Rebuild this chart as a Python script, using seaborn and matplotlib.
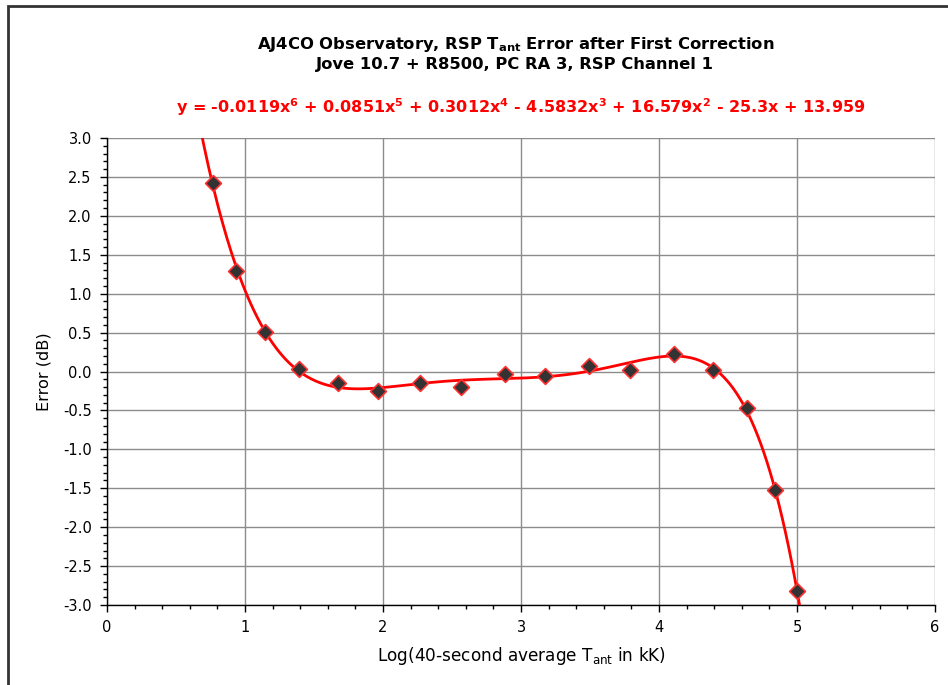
import numpy as np
import pandas as pd
import seaborn as sns
import matplotlib
matplotlib.use("Agg")
import matplotlib.pyplot as plt
from matplotlib.ticker import MultipleLocator, FormatStrFormatter
from matplotlib.patches import Rectangle

# Data
log_tant = [0.768, 0.935, 1.145, 1.391, 1.674, 1.964, 2.268, 2.565, 2.884,
            3.174, 3.490, 3.790, 4.109, 4.391, 4.638, 4.840, 5.000]
error_db = [2.42, 1.29, 0.507, 0.03, -0.148, -0.25, -0.148, -0.20, -0.03,
            -0.057, 0.07, 0.02, 0.225, 0.02, -0.47, -1.52, -2.82]

title_lines = ["AJ4CO Observatory, RSP T$_{\\mathbf{ant}}$ Error after First Correction",
               "Jove 10.7 + R8500, PC RA 3, RSP Channel 1"]
equation = ("y = -0.0119x$^{\\mathbf{6}}$ + 0.0851x$^{\\mathbf{5}}$ + 0.3012x$^{\\mathbf{4}}$ "
            "- 4.5832x$^{\\mathbf{3}}$ + 16.579x$^{\\mathbf{2}}$ - 25.3x + 13.959")
x_label = "Log(40-second average T$_{\\mathrm{ant}}$ in kK)"
y_label = "Error (dB)"

df = pd.DataFrame({"x": log_tant, "y": error_db})

sns.set_style("white")
plt.rcParams["font.family"] = ["DejaVu Sans"]
plt.rcParams["mathtext.default"] = "regular"
plt.rcParams["text.color"] = "black"
plt.rcParams["axes.labelcolor"] = "black"
plt.rcParams["xtick.color"] = "black"
plt.rcParams["ytick.color"] = "black"

fig = plt.figure(figsize=(9.48, 6.85), dpi=100)
ax = fig.add_axes([107/948, 1-605/685, (935-107)/948, (605-138)/685])

# trendline: 6th-order polynomial fit of the data
coef = np.polyfit(df["x"], df["y"], 6)
xs = np.linspace(0.6, 5.05, 400)
trend = pd.DataFrame({"x": xs, "y": np.polyval(coef, xs)})
sns.lineplot(data=trend, x="x", y="y", ax=ax, color="#ff0000", lw=2, zorder=3)

sns.scatterplot(data=df, x="x", y="y", ax=ax, marker="D", s=65,
                color="#333333", edgecolor="#ff3030", linewidth=1.2, zorder=4)

ax.set_xlim(0, 6)
ax.set_ylim(-3, 3)
ax.xaxis.set_major_locator(MultipleLocator(1))
ax.xaxis.set_minor_locator(MultipleLocator(0.2))
ax.yaxis.set_major_locator(MultipleLocator(0.5))
ax.yaxis.set_minor_locator(MultipleLocator(0.1))
ax.yaxis.set_major_formatter(FormatStrFormatter("%.1f"))
ax.grid(True, which="major", color="#8c8c8c", lw=1)
for s in ["top", "right"]:
    ax.spines[s].set_visible(False)
for s in ["left", "bottom"]:
    ax.spines[s].set_color("black")
    ax.spines[s].set_linewidth(1)
ax.tick_params(which="major", direction="out", length=5, width=1, color="black",
               labelsize=10.5, bottom=True, left=True, pad=6)
ax.tick_params(which="minor", direction="out", length=3, width=1, color="black",
               bottom=True, left=True)
ax.set_xlabel(x_label, fontsize=12.2, labelpad=7)
ax.set_ylabel(y_label, fontsize=11.6, labelpad=8)

cx = (107 + 935) / 2 / 948
fig.text(cx - 0.006, 1 - 45/685, title_lines[0], ha="center", va="center",
         fontsize=11.8, fontweight="bold")
fig.text(cx - 0.006, 1 - 65/685, title_lines[1], ha="center", va="center",
         fontsize=11.8, fontweight="bold")
fig.text(cx, 1 - 107/685, equation, ha="center", va="center",
         fontsize=11.5, fontweight="bold", color="#ff0000")

fig.patches.append(Rectangle((8/948, -0.1), 1.2, 1 - 6/685 + 0.1,
                             transform=fig.transFigure, fill=False,
                             edgecolor="#333333", lw=2))

fig.savefig("out.png", dpi=100)
